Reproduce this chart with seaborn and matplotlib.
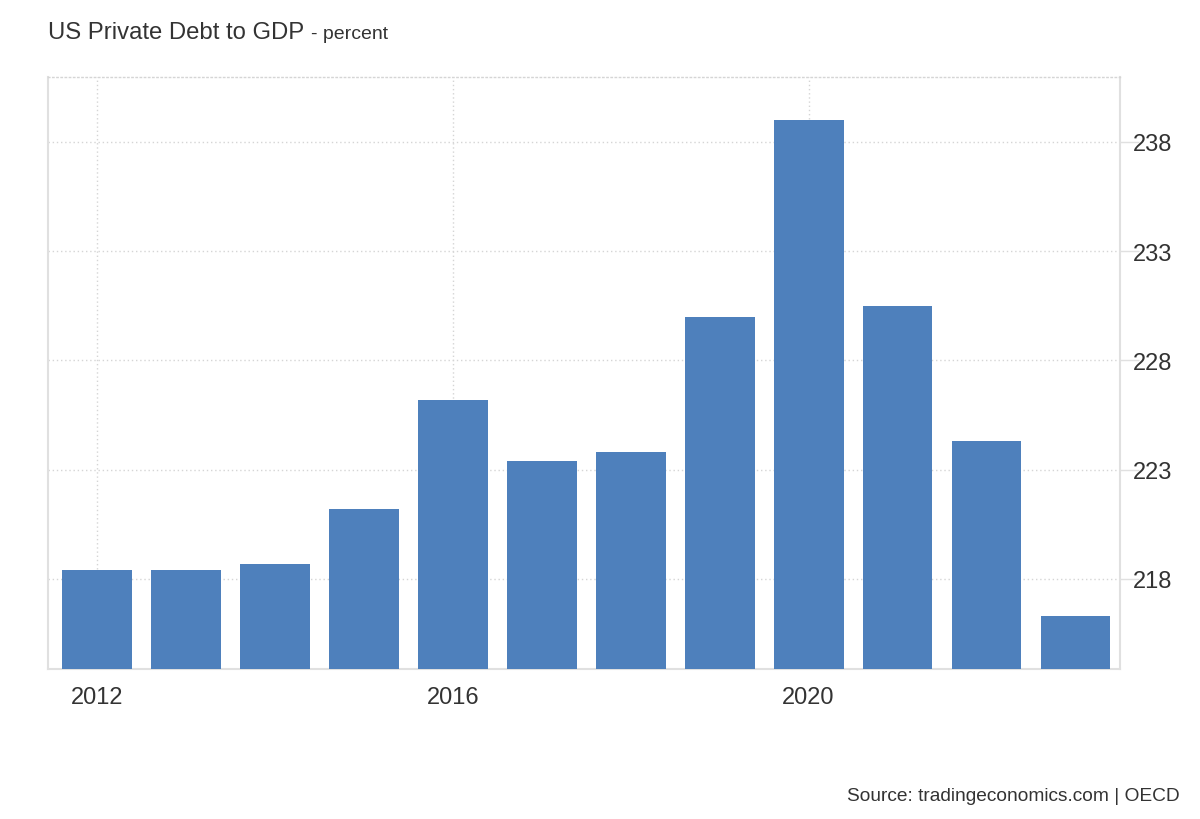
import matplotlib
matplotlib.use("Agg")
import matplotlib.pyplot as plt
import pandas as pd
import seaborn as sns

# 数据
years = [2012, 2013, 2014, 2015, 2016, 2017, 2018, 2019, 2020, 2021, 2022, 2023]
debt_pct = [218.4, 218.4, 218.7, 221.2, 226.2, 223.4, 223.8, 230.0, 239.0, 230.5, 224.3, 216.3]
y_ticks = [218, 223, 228, 233, 238]
x_tick_years = [2012, 2016, 2020]

BAR_COLOR = "#4e80bc"
TEXT_COLOR = "#333333"
LINE_COLOR = "#e0e0e0"

sns.set_theme(style="white")
plt.rcParams["font.family"] = ["Liberation Sans", "DejaVu Sans"]

df = pd.DataFrame({"year": [str(y) for y in years], "value": debt_pct})

fig = plt.figure(figsize=(12, 8.2), dpi=100)
ax = fig.add_axes([0.04, 0.1829, 0.8933, 0.722])

sns.barplot(data=df, x="year", y="value", color=BAR_COLOR, saturation=1,
            width=0.785, linewidth=0, ax=ax, zorder=3)

ax.set_ylim(213.88, 240.97)
ax.set_xlim(-0.55, 11.5)

# 网格
ax.set_yticks(y_ticks)
ax.set_yticklabels([str(t) for t in y_ticks])
xt = [years.index(y) for y in x_tick_years]
ax.set_xticks(xt)
ax.set_xticklabels([str(y) for y in x_tick_years])
ax.grid(True, axis="both", linestyle=(0, (1, 2)), color="#d5d5d5", linewidth=1, zorder=0)
ax.set_axisbelow(True)

ax.yaxis.tick_right()
ax.tick_params(axis="y", which="both", right=True, left=False, length=14, width=1,
               color=LINE_COLOR, pad=-5, labelsize=17, labelcolor=TEXT_COLOR)
ax.tick_params(axis="x", bottom=False, pad=6, labelsize=17, labelcolor=TEXT_COLOR)

for side in ["left", "right", "bottom"]:
    ax.spines[side].set_visible(True)
    ax.spines[side].set_color(LINE_COLOR)
    ax.spines[side].set_linewidth(1.5)
ax.spines["top"].set_visible(True)
ax.spines["top"].set_color("#d5d5d5")
ax.spines["top"].set_linestyle((0, (1, 2)))
ax.spines["top"].set_linewidth(1)

ax.set_xlabel("")
ax.set_ylabel("")

# 标题与来源
title = fig.text(0.04, 0.96, "US Private Debt to GDP", fontsize=17.2, color=TEXT_COLOR, va="center")
renderer = fig.canvas.get_renderer()
bb = title.get_window_extent(renderer=renderer).transformed(fig.transFigure.inverted())
fig.text(bb.x1 + 0.006, 0.958, "- percent", fontsize=14, color=TEXT_COLOR, va="center")
fig.text(0.983, 0.029, "Source: tradingeconomics.com | OECD", fontsize=13.8,
         color=TEXT_COLOR, ha="right", va="center")

fig.savefig("out.png", dpi=100)
